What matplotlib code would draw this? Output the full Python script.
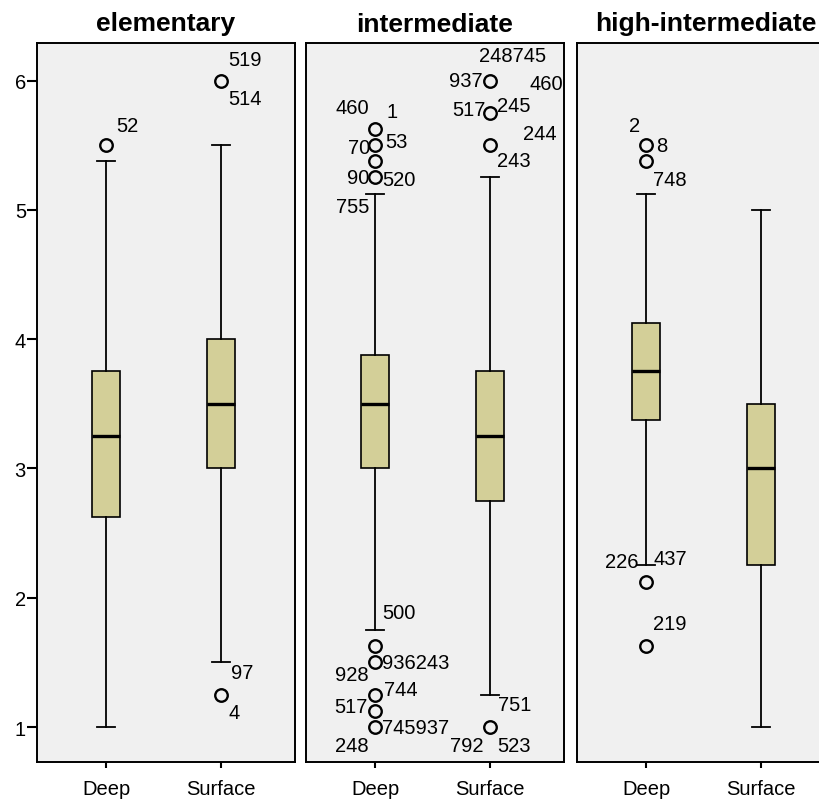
import matplotlib
matplotlib.use('Agg')
import matplotlib.pyplot as plt

plt.rcParams['font.family'] = ['Liberation Sans', 'DejaVu Sans']

# groups and categories
panels = ['elementary', 'intermediate', 'high-intermediate']
cats = ['Deep', 'Surface']

# box stats per panel: [Deep, Surface] -> (whislo, q1, med, q3, whishi)
stats_vals = [
    [(1.0, 2.625, 3.25, 3.75, 5.375), (1.5, 3.0, 3.5, 4.0, 5.5)],
    [(1.75, 3.0, 3.5, 3.875, 5.125), (1.25, 2.75, 3.25, 3.75, 5.25)],
    [(2.25, 3.375, 3.75, 4.125, 5.125), (1.0, 2.25, 3.0, 3.5, 5.0)],
]

# outliers per panel / category
fliers = [
    [[5.5], [6.0, 1.25]],
    [[5.625, 5.5, 5.375, 5.25, 1.625, 1.5, 1.25, 1.125, 1.0], [6.0, 5.75, 5.5, 1.0]],
    [[5.5, 5.375, 2.125, 1.625], []],
]

# case labels: (panel, category, value, text)
case_labels = [
    (0, 0, 5.5, '52'),
    (0, 1, 6.0, '519'), (0, 1, 6.0, '514'),
    (0, 1, 1.25, '97'), (0, 1, 1.25, '4'),
    (1, 0, 5.625, '460'), (1, 0, 5.625, '1'),
    (1, 0, 5.5, '70'), (1, 0, 5.5, '53'),
    (1, 0, 5.25, '90'), (1, 0, 5.25, '520'), (1, 0, 5.25, '755'),
    (1, 0, 1.625, '500'),
    (1, 0, 1.5, '936243'), (1, 0, 1.5, '928'),
    (1, 0, 1.25, '744'), (1, 0, 1.125, '517'),
    (1, 0, 1.0, '745937'), (1, 0, 1.0, '248'),
    (1, 1, 6.0, '248745'), (1, 1, 6.0, '937'), (1, 1, 6.0, '460'),
    (1, 1, 5.75, '517'), (1, 1, 5.75, '245'),
    (1, 1, 5.5, '244'), (1, 1, 5.5, '243'),
    (1, 1, 1.0, '751'), (1, 1, 1.0, '792'), (1, 1, 1.0, '523'),
    (2, 0, 5.5, '2'), (2, 0, 5.5, '8'),
    (2, 0, 5.375, '748'),
    (2, 0, 2.125, '226'), (2, 0, 2.125, '437'),
    (2, 0, 1.625, '219'),
]

# label placement in pixels (dx, dy, ha), same order as case_labels
label_offsets = [
    (10, 20, 'left'),
    (7, 21, 'left'), (7, -18, 'left'),
    (10, 22, 'left'), (7, -18, 'left'),
    (-6, 21, 'right'), (11, 17, 'left'),
    (-5, -2, 'right'), (10, 4, 'left'),
    (-6, 0, 'right'), (7, -2, 'left'), (-6, -29, 'right'),
    (7, 34, 'left'),
    (7, 0, 'left'), (-6, -12, 'right'),
    (9, 5, 'left'), (-7, 4, 'right'),
    (7, 0, 'left'), (-6, -18, 'right'),
    (-11, 25, 'left'), (-7, 0, 'right'), (39, -3, 'left'),
    (-4, 3, 'right'), (7, 7, 'left'),
    (33, 12, 'left'), (7, -15, 'left'),
    (8, 23, 'left'), (-7, -18, 'right'), (7, -18, 'left'),
    (-6, 20, 'right'), (10, 0, 'left'),
    (7, -18, 'left'),
    (-8, 20, 'right'), (7, 23, 'left'),
    (7, 23, 'left'),
]

W, H = 820, 803
fig = plt.figure(figsize=(W / 100, H / 100), dpi=100)

lefts = [37, 306, 577]
pw = 258
bottom, top = 763, 44
axes = []
for i, name in enumerate(panels):
    ax = fig.add_axes([lefts[i] / W, (H - bottom) / H, pw / W, (bottom - top) / H])
    ax.set_facecolor('#F0F0F0')
    bstats = []
    for j, c in enumerate(cats):
        lo, q1, med, q3, hi = stats_vals[i][j]
        bstats.append(dict(whislo=lo, q1=q1, med=med, q3=q3, whishi=hi,
                           fliers=fliers[i][j], label=c))
    ax.bxp(bstats, positions=[0, 1], widths=0.25, patch_artist=True,
           boxprops=dict(facecolor='#D3CF98', edgecolor='black', linewidth=1.2),
           medianprops=dict(color='black', linewidth=2.4),
           whiskerprops=dict(color='black', linewidth=1.3),
           capprops=dict(color='black', linewidth=1.3),
           capwidths=0.15,
           flierprops=dict(marker='o', markerfacecolor='none', markeredgecolor='black',
                           markersize=9, markeredgewidth=1.7))
    ax.set_xlim(-0.6, 1.643)
    ax.set_ylim(0.73, 6.29)
    ax.set_title(name, fontsize=19, fontweight='bold', pad=9)
    ax.set_xticks([0, 1])
    ax.set_xticklabels(cats, fontsize=14.5)
    ax.tick_params(axis='x', length=4.5, width=1.5, pad=8)
    if i == 0:
        ax.set_yticks([1, 2, 3, 4, 5, 6])
        ax.tick_params(axis='y', length=7, width=1.5, labelsize=14.5, pad=1)
    else:
        ax.set_yticks([])
    for s in ax.spines.values():
        s.set_linewidth(1.4)
    axes.append(ax)

for (p, c, v, t), (dx, dy, ha) in zip(case_labels, label_offsets):
    axes[p].annotate(t, xy=(c, v), xytext=(dx * 0.72, dy * 0.72), textcoords='offset points',
                     ha=ha, va='center', fontsize=14.5)

fig.savefig('out.png', dpi=100)
